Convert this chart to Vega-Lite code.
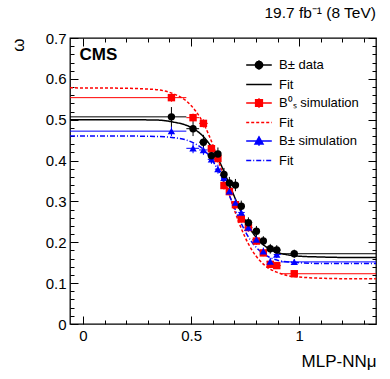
{
  "$schema": "https://vega.github.io/schema/vega-lite/v6.json",
  "width": 306,
  "height": 286,
  "autosize": "none",
  "padding": {"left": 70, "top": 38, "right": 14, "bottom": 55},
  "background": "white",
  "title": {"text": "19.7 fb⁻¹ (8 TeV)", "anchor": "end", "fontSize": 15.5, "fontWeight": "normal", "font": "Liberation Sans", "offset": 10, "color": "black", "frame": "group"},
  "config": {
    "view": {"stroke": "black", "strokeWidth": 1.3},
    "axis": {"labelFont": "Liberation Sans", "titleFont": "Liberation Sans", "labelColor": "black", "titleColor": "black", "tickColor": "black", "grid": false, "domain": false, "labelOverlap": false, "labelFlush": false}
  },
  "datasets": {
    "pts": [
      {"s": "B⁰ₛ simulation", "x": 0.409, "xlo": -0.06, "xhi": 0.478, "y": 0.554, "ylo": 0.544, "yhi": 0.564},
      {"s": "B⁰ₛ simulation", "x": 0.509, "xlo": 0.478, "xhi": 0.537, "y": 0.505, "ylo": 0.495, "yhi": 0.515},
      {"s": "B⁰ₛ simulation", "x": 0.557, "xlo": 0.537, "xhi": 0.577, "y": 0.491, "ylo": 0.481, "yhi": 0.501},
      {"s": "B⁰ₛ simulation", "x": 0.594, "xlo": 0.577, "xhi": 0.61, "y": 0.429, "ylo": 0.419, "yhi": 0.439},
      {"s": "B⁰ₛ simulation", "x": 0.624, "xlo": 0.61, "xhi": 0.638, "y": 0.405, "ylo": 0.395, "yhi": 0.415},
      {"s": "B⁰ₛ simulation", "x": 0.652, "xlo": 0.638, "xhi": 0.665, "y": 0.339, "ylo": 0.329, "yhi": 0.349},
      {"s": "B⁰ₛ simulation", "x": 0.677, "xlo": 0.665, "xhi": 0.69, "y": 0.324, "ylo": 0.314, "yhi": 0.334},
      {"s": "B⁰ₛ simulation", "x": 0.705, "xlo": 0.69, "xhi": 0.718, "y": 0.292, "ylo": 0.282, "yhi": 0.302},
      {"s": "B⁰ₛ simulation", "x": 0.732, "xlo": 0.718, "xhi": 0.748, "y": 0.257, "ylo": 0.248, "yhi": 0.266},
      {"s": "B⁰ₛ simulation", "x": 0.765, "xlo": 0.748, "xhi": 0.783, "y": 0.236, "ylo": 0.227, "yhi": 0.245},
      {"s": "B⁰ₛ simulation", "x": 0.802, "xlo": 0.783, "xhi": 0.818, "y": 0.203, "ylo": 0.194, "yhi": 0.212},
      {"s": "B⁰ₛ simulation", "x": 0.834, "xlo": 0.818, "xhi": 0.85, "y": 0.174, "ylo": 0.166, "yhi": 0.182},
      {"s": "B⁰ₛ simulation", "x": 0.866, "xlo": 0.85, "xhi": 0.882, "y": 0.146, "ylo": 0.138, "yhi": 0.154},
      {"s": "B⁰ₛ simulation", "x": 0.896, "xlo": 0.882, "xhi": 0.915, "y": 0.143, "ylo": 0.135, "yhi": 0.151},
      {"s": "B⁰ₛ simulation", "x": 0.977, "xlo": 0.915, "xhi": 1.36, "y": 0.123, "ylo": 0.117, "yhi": 0.129},
      {"s": "B± simulation", "x": 0.409, "xlo": -0.06, "xhi": 0.478, "y": 0.472, "ylo": 0.46, "yhi": 0.484},
      {"s": "B± simulation", "x": 0.509, "xlo": 0.478, "xhi": 0.537, "y": 0.43, "ylo": 0.418, "yhi": 0.442},
      {"s": "B± simulation", "x": 0.557, "xlo": 0.537, "xhi": 0.577, "y": 0.426, "ylo": 0.414, "yhi": 0.438},
      {"s": "B± simulation", "x": 0.594, "xlo": 0.577, "xhi": 0.61, "y": 0.403, "ylo": 0.392, "yhi": 0.414},
      {"s": "B± simulation", "x": 0.624, "xlo": 0.61, "xhi": 0.638, "y": 0.379, "ylo": 0.368, "yhi": 0.39},
      {"s": "B± simulation", "x": 0.652, "xlo": 0.638, "xhi": 0.665, "y": 0.358, "ylo": 0.347, "yhi": 0.369},
      {"s": "B± simulation", "x": 0.677, "xlo": 0.665, "xhi": 0.69, "y": 0.325, "ylo": 0.315, "yhi": 0.335},
      {"s": "B± simulation", "x": 0.705, "xlo": 0.69, "xhi": 0.718, "y": 0.297, "ylo": 0.287, "yhi": 0.307},
      {"s": "B± simulation", "x": 0.732, "xlo": 0.718, "xhi": 0.748, "y": 0.273, "ylo": 0.263, "yhi": 0.283},
      {"s": "B± simulation", "x": 0.765, "xlo": 0.748, "xhi": 0.783, "y": 0.236, "ylo": 0.226, "yhi": 0.246},
      {"s": "B± simulation", "x": 0.802, "xlo": 0.783, "xhi": 0.818, "y": 0.207, "ylo": 0.197, "yhi": 0.217},
      {"s": "B± simulation", "x": 0.834, "xlo": 0.818, "xhi": 0.85, "y": 0.178, "ylo": 0.169, "yhi": 0.187},
      {"s": "B± simulation", "x": 0.866, "xlo": 0.85, "xhi": 0.882, "y": 0.153, "ylo": 0.144, "yhi": 0.162},
      {"s": "B± simulation", "x": 0.896, "xlo": 0.882, "xhi": 0.915, "y": 0.17, "ylo": 0.161, "yhi": 0.179},
      {"s": "B± simulation", "x": 0.977, "xlo": 0.915, "xhi": 1.36, "y": 0.152, "ylo": 0.145, "yhi": 0.159},
      {"s": "B± data", "x": 0.409, "xlo": -0.06, "xhi": 0.478, "y": 0.507, "ylo": 0.483, "yhi": 0.531},
      {"s": "B± data", "x": 0.509, "xlo": 0.478, "xhi": 0.537, "y": 0.478, "ylo": 0.46, "yhi": 0.496},
      {"s": "B± data", "x": 0.557, "xlo": 0.537, "xhi": 0.577, "y": 0.445, "ylo": 0.427, "yhi": 0.463},
      {"s": "B± data", "x": 0.594, "xlo": 0.577, "xhi": 0.61, "y": 0.412, "ylo": 0.396, "yhi": 0.428},
      {"s": "B± data", "x": 0.624, "xlo": 0.61, "xhi": 0.638, "y": 0.416, "ylo": 0.4, "yhi": 0.432},
      {"s": "B± data", "x": 0.652, "xlo": 0.638, "xhi": 0.665, "y": 0.366, "ylo": 0.35, "yhi": 0.382},
      {"s": "B± data", "x": 0.677, "xlo": 0.665, "xhi": 0.69, "y": 0.345, "ylo": 0.33, "yhi": 0.36},
      {"s": "B± data", "x": 0.705, "xlo": 0.69, "xhi": 0.718, "y": 0.34, "ylo": 0.325, "yhi": 0.355},
      {"s": "B± data", "x": 0.732, "xlo": 0.718, "xhi": 0.748, "y": 0.288, "ylo": 0.274, "yhi": 0.302},
      {"s": "B± data", "x": 0.765, "xlo": 0.748, "xhi": 0.783, "y": 0.248, "ylo": 0.235, "yhi": 0.261},
      {"s": "B± data", "x": 0.802, "xlo": 0.783, "xhi": 0.818, "y": 0.227, "ylo": 0.214, "yhi": 0.24},
      {"s": "B± data", "x": 0.834, "xlo": 0.818, "xhi": 0.85, "y": 0.203, "ylo": 0.191, "yhi": 0.215},
      {"s": "B± data", "x": 0.866, "xlo": 0.85, "xhi": 0.882, "y": 0.184, "ylo": 0.172, "yhi": 0.196},
      {"s": "B± data", "x": 0.896, "xlo": 0.882, "xhi": 0.915, "y": 0.181, "ylo": 0.169, "yhi": 0.193},
      {"s": "B± data", "x": 0.977, "xlo": 0.915, "xhi": 1.36, "y": 0.172, "ylo": 0.162, "yhi": 0.182}
    ],
    "fit": [
      {"s": "Fit", "x": -0.06, "y": 0.5}, {"s": "Fit", "x": 0.2, "y": 0.5}, {"s": "Fit", "x": 0.35, "y": 0.499}, {"s": "Fit", "x": 0.42, "y": 0.494}, {"s": "Fit", "x": 0.48, "y": 0.486}, {"s": "Fit", "x": 0.52, "y": 0.475}, {"s": "Fit", "x": 0.56, "y": 0.457}, {"s": "Fit", "x": 0.6, "y": 0.428}, {"s": "Fit", "x": 0.63, "y": 0.399}, {"s": "Fit", "x": 0.66, "y": 0.363}, {"s": "Fit", "x": 0.69, "y": 0.325}, {"s": "Fit", "x": 0.72, "y": 0.287}, {"s": "Fit", "x": 0.75, "y": 0.254}, {"s": "Fit", "x": 0.78, "y": 0.227}, {"s": "Fit", "x": 0.82, "y": 0.201}, {"s": "Fit", "x": 0.86, "y": 0.184}, {"s": "Fit", "x": 0.9, "y": 0.175}, {"s": "Fit", "x": 0.95, "y": 0.169}, {"s": "Fit", "x": 1.0, "y": 0.166}, {"s": "Fit", "x": 1.1, "y": 0.164}, {"s": "Fit", "x": 1.2, "y": 0.163}, {"s": "Fit", "x": 1.36, "y": 0.163},
      {"s": "Fit ", "x": -0.06, "y": 0.578}, {"s": "Fit ", "x": 0.2, "y": 0.577}, {"s": "Fit ", "x": 0.3, "y": 0.575}, {"s": "Fit ", "x": 0.35, "y": 0.573}, {"s": "Fit ", "x": 0.42, "y": 0.563}, {"s": "Fit ", "x": 0.48, "y": 0.545}, {"s": "Fit ", "x": 0.52, "y": 0.522}, {"s": "Fit ", "x": 0.56, "y": 0.488}, {"s": "Fit ", "x": 0.6, "y": 0.439}, {"s": "Fit ", "x": 0.63, "y": 0.394}, {"s": "Fit ", "x": 0.66, "y": 0.345}, {"s": "Fit ", "x": 0.69, "y": 0.295}, {"s": "Fit ", "x": 0.72, "y": 0.25}, {"s": "Fit ", "x": 0.75, "y": 0.212}, {"s": "Fit ", "x": 0.78, "y": 0.182}, {"s": "Fit ", "x": 0.82, "y": 0.154}, {"s": "Fit ", "x": 0.86, "y": 0.136}, {"s": "Fit ", "x": 0.9, "y": 0.126}, {"s": "Fit ", "x": 0.95, "y": 0.118}, {"s": "Fit ", "x": 1.0, "y": 0.115}, {"s": "Fit ", "x": 1.1, "y": 0.112}, {"s": "Fit ", "x": 1.2, "y": 0.111}, {"s": "Fit ", "x": 1.36, "y": 0.111},
      {"s": "Fit  ", "x": -0.06, "y": 0.46}, {"s": "Fit  ", "x": 0.2, "y": 0.46}, {"s": "Fit  ", "x": 0.35, "y": 0.459}, {"s": "Fit  ", "x": 0.42, "y": 0.456}, {"s": "Fit  ", "x": 0.48, "y": 0.45}, {"s": "Fit  ", "x": 0.52, "y": 0.441}, {"s": "Fit  ", "x": 0.56, "y": 0.426}, {"s": "Fit  ", "x": 0.6, "y": 0.399}, {"s": "Fit  ", "x": 0.63, "y": 0.371}, {"s": "Fit  ", "x": 0.66, "y": 0.336}, {"s": "Fit  ", "x": 0.69, "y": 0.298}, {"s": "Fit  ", "x": 0.72, "y": 0.26}, {"s": "Fit  ", "x": 0.75, "y": 0.227}, {"s": "Fit  ", "x": 0.78, "y": 0.201}, {"s": "Fit  ", "x": 0.82, "y": 0.178}, {"s": "Fit  ", "x": 0.86, "y": 0.164}, {"s": "Fit  ", "x": 0.9, "y": 0.156}, {"s": "Fit  ", "x": 0.95, "y": 0.152}, {"s": "Fit  ", "x": 1.0, "y": 0.15}, {"s": "Fit  ", "x": 1.1, "y": 0.148}, {"s": "Fit  ", "x": 1.2, "y": 0.148}, {"s": "Fit  ", "x": 1.36, "y": 0.148}
    ]
  },
  "encoding": {
    "color": {
      "field": "s", "type": "nominal",
      "scale": {"domain": ["B± data", "Fit", "B⁰ₛ simulation", "Fit ", "B± simulation", "Fit  "], "range": ["#000000", "#000000", "#ff0000", "#ff0000", "#0000ff", "#0000ff"]},
      "legend": {
        "orient": "none", "legendX": 180, "legendY": 18, "title": null,
        "labelFont": "Liberation Sans", "labelFontSize": 13, "labelColor": "black",
        "symbolSize": 256, "labelOffset": 11, "rowPadding": 2.5,
        "encode": {
          "symbols": {
            "update": {
              "shape": {"signal": "datum.value === 'B± data' ? 'M-1.6,0H1.6M0,-0.6V0.6M0.45,0A0.45,0.45 0 1,1 -0.45,0A0.45,0.45 0 1,1 0.45,0Z' : datum.value === 'B⁰ₛ simulation' ? 'M-1.6,0H1.6M0,-0.6V0.6M-0.42,-0.42H0.42V0.42H-0.42Z' : datum.value === 'B± simulation' ? 'M-1.6,0H1.6M0,-0.6V0.6M0,-0.5L0.5,0.38H-0.5Z' : 'M-1.6,0H1.6'"},
              "fill": {"scale": "color", "field": "value"},
              "stroke": {"scale": "color", "field": "value"},
              "strokeWidth": {"value": 1.5},
              "strokeDash": {"signal": "datum.value === 'Fit ' ? [3,2] : datum.value === 'Fit  ' ? [5,2,1,2] : [1,0]"},
              "opacity": {"value": 1}
            }
          }
        }
      }
    }
  },
  "layer": [
    {
      "data": {"name": "fit"},
      "mark": {"type": "line", "interpolate": "monotone", "strokeWidth": 1.5, "clip": true},
      "encoding": {
        "x": {"field": "x", "type": "quantitative", "scale": {"domain": [-0.06, 1.355], "nice": false, "zero": false},
          "axis": {"orient": "bottom", "values": [0, 0.1, 0.2, 0.3, 0.4, 0.5, 0.6, 0.7, 0.8, 0.9, 1, 1.1, 1.2, 1.3], "format": "~g",
            "labelExpr": "(datum.value == 0 || datum.value == 0.5 || datum.value == 1) ? datum.label : ''",
            "tickSize": {"condition": {"test": "datum.value == 0 || datum.value == 0.5 || datum.value == 1", "value": -8}, "value": -4},
            "labelPadding": 12, "labelFontSize": 15,
            "title": "MLP-NNμ", "titleAnchor": "end", "titleFontSize": 17, "titleFontWeight": "normal", "titlePadding": 6}},
        "y": {"field": "y", "type": "quantitative", "scale": {"domain": [0, 0.7], "nice": false, "zero": false},
          "axis": {"orient": "left", "values": [0, 0.02, 0.04, 0.06, 0.08, 0.1, 0.12, 0.14, 0.16, 0.18, 0.2, 0.22, 0.24, 0.26, 0.28, 0.3, 0.32, 0.34, 0.36, 0.38, 0.4, 0.42, 0.44, 0.46, 0.48, 0.5, 0.52, 0.54, 0.56, 0.58, 0.6, 0.62, 0.64, 0.66, 0.68, 0.7], "format": "~g",
            "labelExpr": "abs(datum.value * 10 - round(datum.value * 10)) < 0.001 ? datum.label : ''",
            "tickSize": {"condition": {"test": "abs(datum.value * 10 - round(datum.value * 10)) < 0.001", "value": -8}, "value": -4},
            "labelPadding": 12, "labelFontSize": 15,
            "title": "ω", "titleAnchor": "end", "titleFontSize": 17, "titleFontWeight": "normal", "titlePadding": 18}},
        "strokeDash": {"field": "s", "type": "nominal", "scale": {"domain": ["Fit", "Fit ", "Fit  "], "range": [[1, 0], [3, 2], [5, 2, 1, 2]]}, "legend": null}
      }
    },
    {
      "data": {"name": "pts"},
      "mark": {"type": "rule", "strokeWidth": 1, "clip": true},
      "encoding": {
        "x": {"field": "xlo", "type": "quantitative", "axis": null},
        "x2": {"field": "xhi"},
        "y": {"field": "y", "type": "quantitative", "axis": null}
      }
    },
    {
      "data": {"name": "pts"},
      "mark": {"type": "rule", "strokeWidth": 1, "clip": true},
      "encoding": {
        "x": {"field": "x", "type": "quantitative", "axis": null},
        "y": {"field": "ylo", "type": "quantitative", "axis": null},
        "y2": {"field": "yhi"}
      }
    },
    {
      "data": {"name": "pts"},
      "mark": {"type": "point", "filled": true, "size": 55, "opacity": 1},
      "encoding": {
        "x": {"field": "x", "type": "quantitative", "axis": null},
        "y": {"field": "y", "type": "quantitative", "axis": null},
        "shape": {"field": "s", "type": "nominal", "scale": {"domain": ["B± data", "B⁰ₛ simulation", "B± simulation"], "range": ["circle", "square", "triangle-up"]}, "legend": null}
      }
    },
    {
      "data": {"values": [{}]},
      "mark": {"type": "text", "text": "CMS", "font": "Liberation Sans", "fontWeight": "bold", "fontSize": 17, "align": "left", "baseline": "middle", "color": "black"},
      "encoding": {
        "x": {"datum": -0.016, "type": "quantitative", "axis": null},
        "y": {"datum": 0.659, "type": "quantitative", "axis": null},
        "color": {"value": "black"}
      }
    },
    {
      "data": {"name": "pts"},
      "mark": {"type": "point", "opacity": 0},
      "encoding": {
        "x": {"field": "x", "type": "quantitative",
          "axis": {"orient": "top", "values": [0, 0.1, 0.2, 0.3, 0.4, 0.5, 0.6, 0.7, 0.8, 0.9, 1, 1.1, 1.2, 1.3], "labels": false, "title": null,
            "tickSize": {"condition": {"test": "datum.value == 0 || datum.value == 0.5 || datum.value == 1", "value": -8}, "value": -4}}},
        "y": {"field": "y", "type": "quantitative",
          "axis": {"orient": "right", "values": [0, 0.02, 0.04, 0.06, 0.08, 0.1, 0.12, 0.14, 0.16, 0.18, 0.2, 0.22, 0.24, 0.26, 0.28, 0.3, 0.32, 0.34, 0.36, 0.38, 0.4, 0.42, 0.44, 0.46, 0.48, 0.5, 0.52, 0.54, 0.56, 0.58, 0.6, 0.62, 0.64, 0.66, 0.68, 0.7], "labels": false, "title": null,
            "tickSize": {"condition": {"test": "abs(datum.value * 10 - round(datum.value * 10)) < 0.001", "value": -8}, "value": -4}}},
        "color": {"value": "black"}
      }
    }
  ],
  "resolve": {"axis": {"x": "independent", "y": "independent"}}
}
